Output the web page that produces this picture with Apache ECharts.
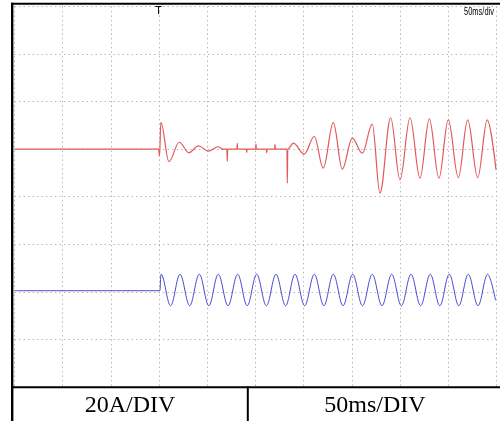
<!DOCTYPE html>
<html>
<head>
<meta charset="utf-8">
<script src="https://cdn.jsdelivr.net/npm/echarts@6/dist/echarts.min.js"></script>
<style>
html,body{margin:0;padding:0;background:#fff;}
#c{width:500px;height:421px;}
</style>
</head>
<body>
<div id="c"></div>
<script>
// Time axis (ms), 50 ms/div, 10 divisions
var timeTicks = [0, 50, 100, 150, 200, 250, 300, 350, 400, 450, 500];
// Vertical graticule in divisions (8 divisions), 20 A/div
var divTicks = [0, 1, 2, 3, 4, 5, 6, 7, 8];
var ampsPerDiv = 20;
var labelLeft = '20A/DIV';
var labelRight = '50ms/DIV';
var topLabel = '50ms/div';
var triggerLabel = 'T';

// Channel offsets (graticule division of each trace's zero line)
var redOffsetDiv = 5.0;
var blueOffsetDiv = 2.024;

// Red trace: times (ms) and currents (A) read at extrema/spikes
var redT = [0, 149.5, 150.5, 151.8, 160.2, 170.9, 181.0, 190.7, 201.0, 211.4, 216.0,
  220.3, 220.7, 221.1, 230.7, 231.1, 231.5, 240.5, 240.9, 241.3, 250.1, 250.5, 250.9,
  261.2, 261.6, 262.0, 269.8, 270.2, 270.6, 282.6, 283.0, 283.5,
  289.2, 300.6, 311.0, 320.3, 330.7, 340.0, 350.4, 360.8, 371.1, 379.1, 390.2, 399.9,
  410.3, 420.6, 430.3, 440.3, 450.0, 460.4, 470.1, 480.5, 490.4, 499.5];
var redA = [0, 0, -3.0, 11.3, -5.2, 2.9, -1.5, 1.4, -0.8, 1.0, 0,
  0, -5.2, 0, 0, 2.4, 0, 0, -1.4, 0, 0, 2.2, 0,
  0, -1.6, 0, 0, 2.0, 0, 0, -14.3, 0,
  2.5, -2.1, 5.3, -8.0, 11.1, -8.4, 4.6, -1.7, 10.5, -18.5, 13.2, -12.9,
  13.2, -12.2, 12.7, -12.2, 12.3, -12.0, 12.3, -12.0, 12.3, -8.7];

// Blue trace: times (ms) and currents (A) read at extrema
var blueT = [0, 150.8, 152.0, 161.9, 171.7, 181.7, 191.7, 201.6, 211.4, 221.5, 231.5,
  241.4, 251.2, 261.3, 271.3, 281.2, 291.0, 301.0, 311.0, 320.9, 330.7, 340.8, 350.8,
  361.0, 371.1, 381.2, 391.3, 401.3, 411.3, 421.3, 431.3, 441.2, 451.0, 460.9, 470.7,
  480.8, 490.8, 499.0];
var blueA = [0, 0, 6.9, -6.3, 6.9, -6.3, 6.9, -6.3, 6.9, -6.3, 6.9,
  -6.3, 6.9, -6.3, 6.9, -6.3, 6.9, -6.3, 6.9, -6.3, 6.9, -6.3, 6.9,
  -6.3, 6.9, -6.3, 6.9, -6.3, 6.9, -6.3, 6.9, -6.3, 6.9, -6.3, 6.9,
  -6.3, 6.9, -4.0];

function build(ts, as, off) {
  var out = [];
  for (var i = 0; i < ts.length; i++) out.push([ts[i], off + as[i] / ampsPerDiv]);
  return out;
}

var chart = echarts.init(document.getElementById('c'), null, {renderer: 'canvas'});
var gridStyle = {color: '#b8b8b8', width: 1, type: [1.5, 3]};
chart.setOption({
  animation: false,
  backgroundColor: '#fff',
  grid: {left: 14.5, right: 3.5, top: 6.4, bottom: 34, containLabel: false},
  xAxis: {
    type: 'value', min: timeTicks[0], max: timeTicks[timeTicks.length - 1],
    interval: timeTicks[1] - timeTicks[0],
    axisLine: {show: false}, axisTick: {show: false}, axisLabel: {show: false},
    splitLine: {show: true, lineStyle: gridStyle}
  },
  yAxis: {
    type: 'value', min: divTicks[0], max: divTicks[divTicks.length - 1],
    interval: divTicks[1] - divTicks[0],
    axisLine: {show: false}, axisTick: {show: false}, axisLabel: {show: false},
    splitLine: {show: true, lineStyle: gridStyle}
  },
  series: [
    {
      type: 'line', data: build(redT, redA, redOffsetDiv), showSymbol: false,
      smooth: 0.36, smoothMonotone: 'x',
      lineStyle: {color: '#e05a5a', width: 1.2}, z: 3
    },
    {
      type: 'line', data: build(blueT, blueA, blueOffsetDiv), showSymbol: false,
      smooth: 0.36, smoothMonotone: 'x',
      lineStyle: {color: '#4a4ad0', width: 1}, z: 3
    }
  ],
  graphic: [
    {type: 'rect', shape: {x: 11, y: 2.7, width: 489, height: 2}, style: {fill: '#000'}, z: 10},
    {type: 'rect', shape: {x: 11, y: 2.7, width: 2.4, height: 419}, style: {fill: '#000'}, z: 10},
    {type: 'rect', shape: {x: 11, y: 386.2, width: 489, height: 2}, style: {fill: '#000'}, z: 10},
    {type: 'rect', shape: {x: 246.8, y: 386.2, width: 2, height: 35}, style: {fill: '#000'}, z: 10},
    {type: 'text', x: 130, y: 405.5, style: {text: labelLeft, fill: '#000', font: '24px "Liberation Serif", serif', align: 'center', verticalAlign: 'middle'}, z: 10},
    {type: 'text', x: 375, y: 405.5, style: {text: labelRight, fill: '#000', font: '24px "Liberation Serif", serif', align: 'center', verticalAlign: 'middle'}, z: 10},
    {type: 'text', x: 158.5, y: 11.5, style: {text: triggerLabel, fill: '#000', font: '10px "DejaVu Sans", sans-serif', align: 'center', verticalAlign: 'middle'}, z: 10},
    {type: 'text', x: 494, y: 12, scaleX: 0.75, style: {text: topLabel, fill: '#000', font: '10px "Liberation Sans", sans-serif', align: 'right', verticalAlign: 'middle'}, z: 10}
  ]
});
</script>
</body>
</html>
